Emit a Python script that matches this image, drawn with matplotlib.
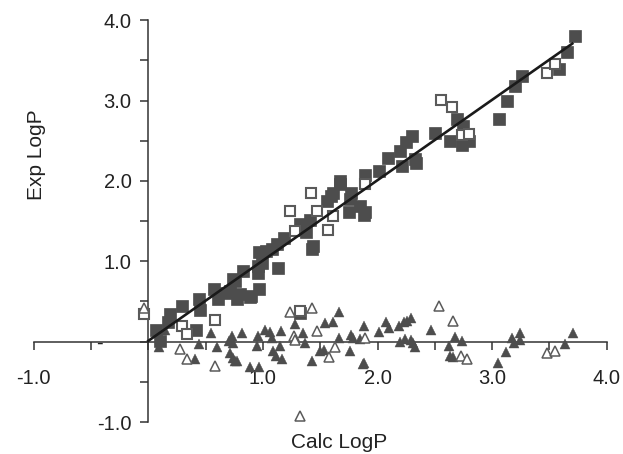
import matplotlib
matplotlib.use("Agg")
import matplotlib.pyplot as plt
import numpy as np
from matplotlib.ticker import FuncFormatter, MultipleLocator

plt.rcParams['font.family'] = ['Liberation Sans', 'DejaVu Sans']

# training set: calc vs exp (filled squares)
train_calc = [3.72, 3.65, 3.58, 3.26, 3.20, 3.13, 3.06, 2.69, 2.50, 2.63, 2.75, 2.30,
              2.25, 2.20, 2.09, 2.33, 2.21, 2.34, 2.01, 1.89, 1.67, 1.61, 1.77, 1.56,
              1.76, 1.85, 1.89, 1.75, 1.67, 1.59, 1.88, 1.41, 1.32, 1.43, 1.44, 1.38,
              1.18, 1.12, 1.08, 1.03, 0.97, 0.99, 1.13, 0.96, 0.96, 0.83, 0.74, 0.76,
              0.77, 0.68, 0.57, 0.61, 0.90, 0.97, 0.71, 0.80, 0.89, 0.44, 0.45, 0.29,
              0.19, 0.17, 0.42, 0.07, 0.10, 1.32, 2.74, 2.80]
train_exp = [3.81, 3.60, 3.39, 3.31, 3.18, 2.99, 2.77, 2.77, 2.60, 2.50, 2.68, 2.56,
             2.48, 2.37, 2.29, 2.27, 2.19, 2.23, 2.12, 2.08, 2.00, 1.85, 1.85, 1.75,
             1.77, 1.69, 1.61, 1.61, 1.96, 1.81, 1.58, 1.52, 1.46, 1.15, 1.19, 1.36,
             1.29, 1.21, 1.15, 1.13, 1.11, 0.98, 0.92, 0.94, 0.86, 0.88, 0.78, 0.75,
             0.53, 0.61, 0.65, 0.53, 0.57, 0.65, 0.63, 0.59, 0.55, 0.53, 0.40, 0.44,
             0.34, 0.24, 0.15, 0.15, 0.01, 0.36, 2.45, 2.50]

# test set: calc vs exp (open squares)
test_calc = [2.55, 2.65, 2.74, 2.80, 3.48, 3.55, 1.89, 1.42, 1.24, 1.47, 1.61, 1.28,
             1.57, -0.04, 0.58, 0.29, 0.34, 1.32]
test_exp = [3.01, 2.92, 2.57, 2.58, 3.35, 3.45, 1.96, 1.85, 1.63, 1.63, 1.57, 1.38,
            1.39, 0.34, 0.27, 0.20, 0.10, 0.38]

# training residuals (filled triangles)
res_train_calc = [0.15, 0.09, 0.41, 0.44, 0.55, 0.60, 0.70, 0.73, 0.74, 0.71, 0.74, 0.77,
                  0.82, 0.89, 0.95, 0.96, 0.97, 1.02, 1.06, 1.08, 1.09, 1.11, 1.15, 1.16,
                  1.17, 1.28, 1.35, 1.37, 1.43, 1.50, 1.53, 1.54, 1.61, 1.66, 1.66, 1.76,
                  1.77, 1.79, 1.85, 1.88, 1.88, 2.01, 2.07, 2.10, 2.19, 2.23, 2.26, 2.29,
                  2.20, 2.24, 2.29, 2.31, 2.33, 2.47, 2.62, 2.68, 2.74, 2.63, 2.66, 3.05,
                  3.12, 3.17, 3.19, 3.24, 3.24, 3.64, 3.71, 1.87, 0.76]
res_train = [0.14, -0.07, -0.22, -0.03, 0.11, -0.07, 0.01, 0.07, -0.02, -0.14, -0.20, -0.24,
             0.11, -0.31, -0.05, 0.07, -0.31, 0.14, 0.12, 0.04, -0.12, -0.18, -0.05, 0.13,
             -0.21, 0.22, 0.11, -0.02, -0.24, -0.12, -0.10, 0.23, 0.24, 0.37, 0.05, -0.12,
             0.08, 0.04, 0.03, 0.20, -0.26, 0.12, 0.24, 0.17, 0.19, 0.24, 0.26, 0.29,
             -0.01, 0.03, 0.02, -0.02, -0.07, 0.14, -0.06, 0.06, 0.01, -0.18, -0.19, -0.27,
             -0.13, 0.05, -0.02, 0.11, 0.02, -0.03, 0.11, -0.28, -0.24]

# test residuals (open triangles)
res_test_calc = [-0.04, 0.28, 0.34, 0.58, 1.24, 1.43, 1.27, 1.28, 1.47, 1.63, 1.58, 1.89,
                 2.54, 2.66, 2.73, 2.78, 3.48, 3.55, 1.32]
res_test = [0.42, -0.09, -0.22, -0.30, 0.37, 0.42, 0.07, 0.02, 0.13, -0.07, -0.19, 0.05,
            0.45, 0.26, -0.18, -0.22, -0.14, -0.12, -0.93]

# regression line
fit_slope = 1.0
fit_intercept = 0.01
fit_range = [0.0, 3.70]

fig = plt.figure(figsize=(6.23, 4.54), dpi=100)
ax = fig.add_axes([33.7 / 623, 32 / 454, 573 / 623, 401.7 / 454])

dark = '#4d4d4d'
ax.plot(train_calc, train_exp, 's', ms=9.3, color=dark, mec=dark, mew=0.5, zorder=3)
ax.plot(test_calc, test_exp, 's', ms=7.8, mfc='white', mec='#5a5a5a', mew=1.5, zorder=4)
ax.plot(res_train_calc, res_train, '^', ms=6.8, color=dark, mec=dark, mew=0.3, zorder=3)
ax.plot(res_test_calc, res_test, '^', ms=7.3, mfc='white', mec='#5a5a5a', mew=1.1, zorder=4)

fx = np.array(fit_range)
ax.plot(fx, fit_slope * fx + fit_intercept, color='#1a1a1a', lw=1.9, zorder=5)

ax.set_xlim(-1, 4)
ax.set_ylim(-1, 4)
for s in ['top', 'right']:
    ax.spines[s].set_visible(False)
ax.spines['left'].set_position(('data', 0))
ax.spines['bottom'].set_position(('data', 0))
for s in ['left', 'bottom']:
    ax.spines[s].set_color('#333333')
    ax.spines[s].set_linewidth(1.1)

ax.xaxis.set_major_locator(MultipleLocator(0.5))
ax.yaxis.set_major_locator(MultipleLocator(0.5))


def xfmt(v, pos):
    if abs(v) < 1e-9 or abs(v - round(v)) > 1e-9:
        return ''
    return f'{v:.1f}'


def yfmt(v, pos):
    if abs(v) < 1e-9:
        return '-     '
    if abs(v - round(v)) > 1e-9:
        return ''
    return f'{v:.1f}'


ax.xaxis.set_major_formatter(FuncFormatter(xfmt))
ax.yaxis.set_major_formatter(FuncFormatter(yfmt))
ax.tick_params(axis='x', direction='out', length=6, width=1.1, color='#333333',
               labelsize=14.5, pad=14, labelcolor='#222222')
ax.tick_params(axis='y', direction='out', length=6, width=1.1, color='#333333',
               labelsize=14.5, pad=6, labelcolor='#222222')

fig.text(339 / 623, 1 - 443 / 454, 'Calc LogP', fontsize=15, ha='center', va='center',
         color='#222222')
fig.text(36 / 623, 1 - 155 / 454, 'Exp LogP', fontsize=15, ha='center', va='center',
         rotation=90, color='#222222')

fig.savefig('out.png', dpi=100)
